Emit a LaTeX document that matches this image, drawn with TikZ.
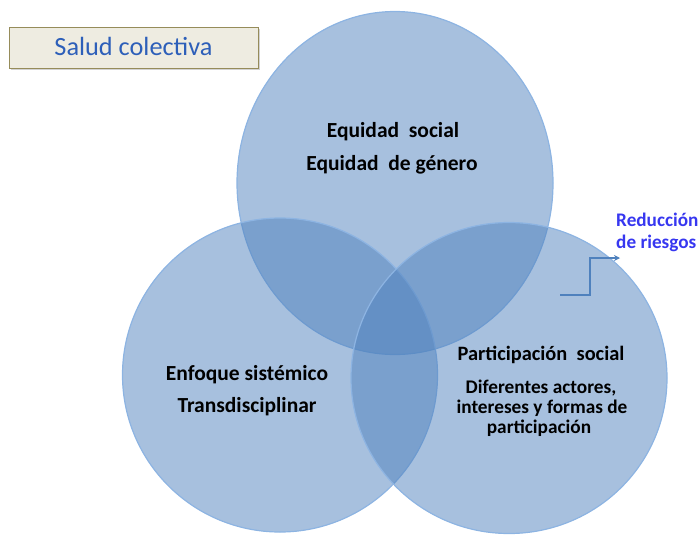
\documentclass[tikz,border=0pt]{standalone}
\usepackage{fontspec}
\setmainfont{Carlito}
\usetikzlibrary{shapes.geometric,arrows.meta,shadows}
\definecolor{cfill}{RGB}{79,129,189}
\definecolor{cedge}{RGB}{141,180,226}
\definecolor{titleblue}{RGB}{45,95,185}
\definecolor{boxfill}{RGB}{238,236,225}
\definecolor{boxedge}{RGB}{150,140,90}
\definecolor{redblue}{RGB}{55,55,240}
\definecolor{arrowc}{RGB}{79,129,189}
\tikzset{
  venn/.style={ellipse, inner sep=0pt, fill=cfill, fill opacity=0.5, draw=cedge, draw opacity=1, line width=1.2pt},
  lbl/.style={font=\fontsize{21.5}{25}\selectfont\bfseries, text=black, inner sep=0pt},
  lblr/.style={font=\fontsize{20.4}{24}\selectfont\bfseries, text=black, inner sep=0pt},
  lblsm/.style={font=\fontsize{19.3}{23}\selectfont\bfseries, text=black, inner sep=0pt},
  redlbl/.style={font=\fontsize{19.2}{22}\selectfont\bfseries, text=redblue, inner sep=0pt, anchor=west},
  titlebox/.style={draw=boxedge, fill=boxfill, line width=1pt, minimum width=249pt, minimum height=41pt, inner sep=0pt,
    drop shadow={shadow xshift=2pt, shadow yshift=-2pt, opacity=0.35}}
}
\begin{document}
\begin{tikzpicture}[x=1pt,y=-1pt]
\useasboundingbox (0,0) rectangle (700,536);
% circles
\node[venn, minimum width=316pt, minimum height=343pt] (top) at (395,183) {};
\node[venn, minimum width=315pt, minimum height=314pt] (left) at (280,375) {};
\node[venn, minimum width=316pt, minimum height=311pt] (right) at (509,378) {};
% title
\node[titlebox] (title) at (133.5,47.5) {};
\node[font=\fontsize{26.3}{30}\selectfont, text=titleblue] (titletext) at (133.5,46) {Salud colectiva};
% texts
\node[lbl] (t1) at (393,132) {Equidad\ \ social};
\node[lbl] (t2) at (392,165) {Equidad\ \ de género};
\node[lbl] (l1) at (247,375) {Enfoque sistémico};
\node[lbl] (l2) at (247,407) {Transdisciplinar};
\node[lblr] (r1) at (541,355) {Participación\ \ social};
\node[lblsm] (r2) at (541,388) {Diferentes actores,};
\node[lblsm] (r3) at (542,408) {intereses y formas de};
\node[lblsm] (r4) at (539,428) {participación};
\node[redlbl] (red1) at (616,220) {Reducción};
\node[redlbl] (red2) at (616,243) {de riesgos};
% arrow
\coordinate (a1) at (560,295);
\coordinate (a2) at (620,258);
\draw[arrowc, line width=1.5pt, -{Stealth[length=6pt,width=6pt]}] (a1) -- ++(30,0) |- (a2);
\end{tikzpicture}
\end{document}
